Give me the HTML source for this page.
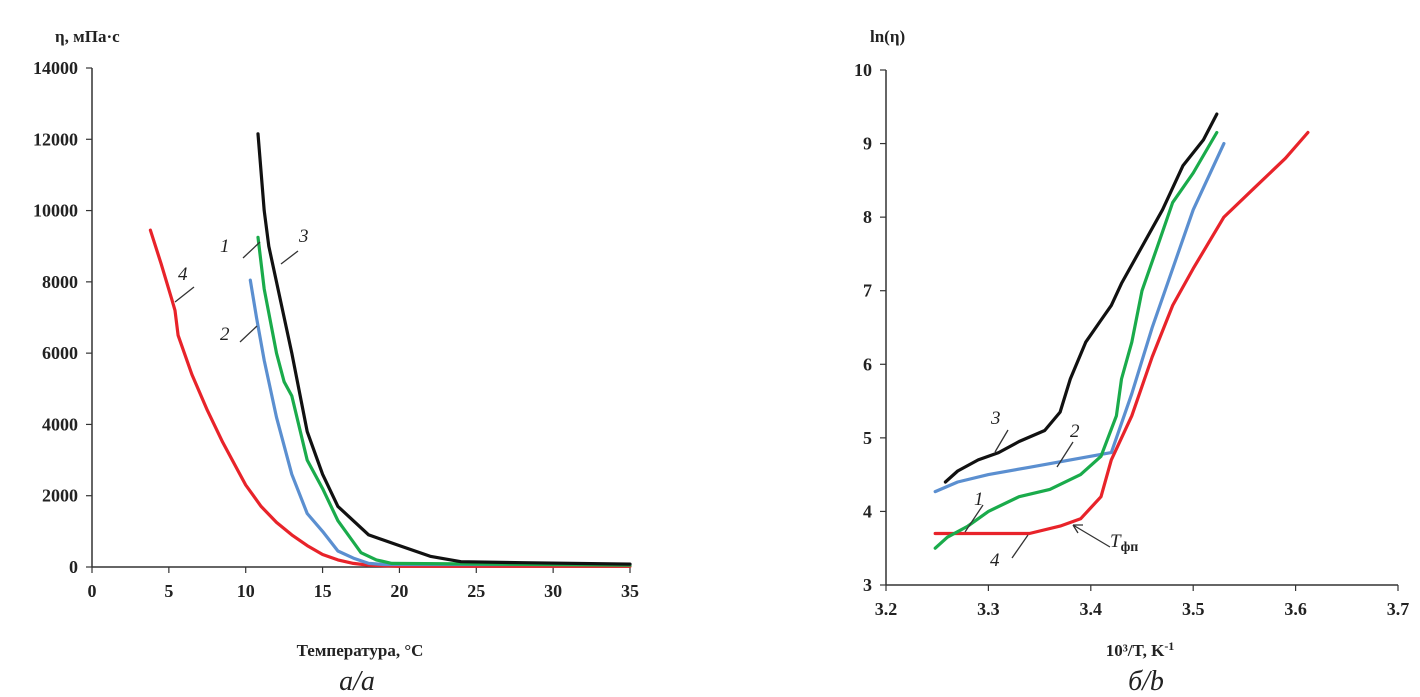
<!DOCTYPE html>
<html><head><meta charset="utf-8">
<style>
body{margin:0;background:#fff;}
svg{display:block;font-family:"Liberation Serif",serif;}
.tick{font-size:18px;font-weight:bold;fill:#222;}
.title{font-size:17px;font-weight:bold;fill:#222;}
.lab{font-size:19px;font-style:italic;fill:#222;}
.cap{font-size:28px;font-style:italic;fill:#222;}
</style></head>
<body>
<svg id="chart" width="1420" height="697">
</svg>
<script>
// Left chart data (T, eta)
const leftXTicks = [0,5,10,15,20,25,30,35];
const leftYTicks = [0,2000,4000,6000,8000,10000,12000,14000];
const c4T = [3.8,4.5,5.2,5.4,5.6,6.5,7.5,8.5,9.5,10,11,12,13,14,15,16,17,18,20,35];
const c4E = [9450,8500,7500,7200,6500,5400,4400,3500,2700,2300,1700,1250,900,600,350,200,100,50,20,20];
const c2T = [10.3,10.7,11.2,12,13,14,15,16,17,18,19,35];
const c2E = [8050,7000,5800,4200,2600,1500,1000,450,250,100,70,70];
const c1T = [10.8,11.2,12,12.5,13,14,15,16,17,17.5,18.5,19.5,35];
const c1E = [9250,7800,6000,5200,4800,3000,2200,1300,700,400,200,100,50];
const c3T = [10.8,11.2,11.5,12,13,14,15,16,17,18,20,22,24,28,35];
const c3E = [12150,10000,9000,8000,6000,3800,2600,1700,1300,900,600,300,150,120,80];
// Right chart data (1000/T, ln eta)
const rightXTicks = [3.2,3.3,3.4,3.5,3.6,3.7];
const rightYTicks = [3,4,5,6,7,8,9,10];
const r3X = [3.258,3.27,3.29,3.31,3.33,3.355,3.37,3.38,3.395,3.41,3.42,3.43,3.45,3.47,3.49,3.51,3.523];
const r3Y = [4.4,4.55,4.7,4.8,4.95,5.1,5.35,5.8,6.3,6.6,6.8,7.1,7.6,8.1,8.7,9.05,9.4];
const r2X = [3.248,3.27,3.3,3.34,3.38,3.42,3.44,3.46,3.48,3.5,3.53];
const r2Y = [4.27,4.4,4.5,4.6,4.7,4.8,5.6,6.5,7.3,8.1,9.0];
const r1X = [3.248,3.26,3.28,3.3,3.33,3.36,3.39,3.41,3.425,3.43,3.44,3.45,3.465,3.48,3.5,3.523];
const r1Y = [3.5,3.65,3.8,4.0,4.2,4.3,4.5,4.75,5.3,5.8,6.3,7.0,7.6,8.2,8.6,9.15];
const r4X = [3.248,3.34,3.37,3.39,3.41,3.42,3.44,3.46,3.48,3.5,3.53,3.56,3.59,3.612];
const r4Y = [3.7,3.7,3.8,3.9,4.2,4.7,5.3,6.1,6.8,7.3,8.0,8.4,8.8,9.15];

const NS="http://www.w3.org/2000/svg";
const svg=document.getElementById('chart');
function mk(tag,attrs,parent){const e=document.createElementNS(NS,tag);for(const k in attrs)e.setAttribute(k,attrs[k]);(parent||svg).appendChild(e);return e;}
function txt(x,y,s,cls,anchor){const t=mk('text',{x:x,y:y,class:cls,'text-anchor':anchor||'start'});t.textContent=s;return t;}

const lx=v=>92+v*(630-92)/35, ly=v=>567-v*(567-68)/14000;
const rx=v=>886+(v-3.2)*(1398-886)/0.5, ry=v=>585-(v-3)*(585-70)/7;

function axes(xf,yf,xt,yt,x0,y0,fmtX,fmtY,name){
  const g=mk('g',{});
  
  
  mk('line',{x1:xf(x0),y1:yf(yt[yt.length-1]),x2:xf(x0),y2:yf(y0),stroke:'#333','stroke-width':1.5},g);
  mk('line',{x1:xf(x0),y1:yf(y0),x2:xf(xt[xt.length-1]),y2:yf(y0),stroke:'#333','stroke-width':1.5},g);
  xt.forEach(v=>{mk('line',{x1:xf(v),y1:yf(y0),x2:xf(v),y2:yf(y0)+6,stroke:'#333','stroke-width':1.2},g);
    const t=txt(xf(v),yf(y0)+30,fmtX(v),'tick','middle');g.appendChild(t);});
  yt.forEach(v=>{mk('line',{x1:xf(x0)-6,y1:yf(v),x2:xf(x0),y2:yf(v),stroke:'#333','stroke-width':1.2},g);
    const t=txt(xf(x0)-14,yf(v)+6,fmtY(v),'tick','end');g.appendChild(t);});
}
axes(lx,ly,leftXTicks,leftYTicks,0,0,v=>String(v),v=>String(v),'left-axes');
axes(rx,ry,rightXTicks,rightYTicks,3.2,3,v=>v.toFixed(1),v=>String(v),'right-axes');

function line(xs,ys,xf,yf,color,name){
  const d=xs.map((x,i)=>(i?'L':'M')+xf(x).toFixed(1)+','+yf(ys[i]).toFixed(1)).join('');
  const p=mk('path',{d:d,fill:'none',stroke:color,'stroke-width':3.2,'stroke-linejoin':'round','stroke-linecap':'round'});
  
  
}
const RED='#e8232a',BLUE='#5b8fd0',GREEN='#1aab4b',BLACK='#111';
line(c4T,c4E,lx,ly,RED,'left-curve-4');
line(c2T,c2E,lx,ly,BLUE,'left-curve-2');
line(c1T,c1E,lx,ly,GREEN,'left-curve-1');
line(c3T,c3E,lx,ly,BLACK,'left-curve-3');
line(r4X,r4Y,rx,ry,RED,'right-curve-4');
line(r2X,r2Y,rx,ry,BLUE,'right-curve-2');
line(r1X,r1Y,rx,ry,GREEN,'right-curve-1');
line(r3X,r3Y,rx,ry,BLACK,'right-curve-3');

function lead(x1,y1,x2,y2){mk('line',{x1:x1,y1:y1,x2:x2,y2:y2,stroke:'#333','stroke-width':1.3});}
// left labels
lead(243,258,260,242);txt(220,252,'1','lab');
lead(240,342,257,326);txt(220,340,'2','lab');
lead(281,264,298,251);txt(299,242,'3','lab');
lead(175,302,194,287);txt(178,280,'4','lab');
// right labels
lead(995,452,1008,430);txt(991,424,'3','lab');
lead(1057,467,1073,442);txt(1070,437,'2','lab');
lead(965,532,983,505);txt(974,505,'1','lab');
lead(1012,558,1028,535);txt(990,566,'4','lab');
mk('path',{d:'M1110,547 L1073,525 M1073,525 l10,0 M1073,525 l5,8',stroke:'#333','stroke-width':1.3,fill:'none'});
const tf=txt(1110,547,'T','lab');
const sub=mk('tspan',{'font-size':'14','font-style':'normal','font-weight':'bold',dy:'4'},tf);sub.textContent='фп';

txt(55,42,'η, мПа·с','title');
txt(870,42,'ln(η)','title');
txt(360,656,'Температура, °С','title','middle');
const xr=txt(1140,656,'10³/T, K','title','middle');
const sp=mk('tspan',{dy:'-6','font-size':'12'},xr);sp.textContent='-1';
txt(357,690,'а/а','cap','middle');
txt(1146,690,'б/b','cap','middle');
</script>
</body></html>
